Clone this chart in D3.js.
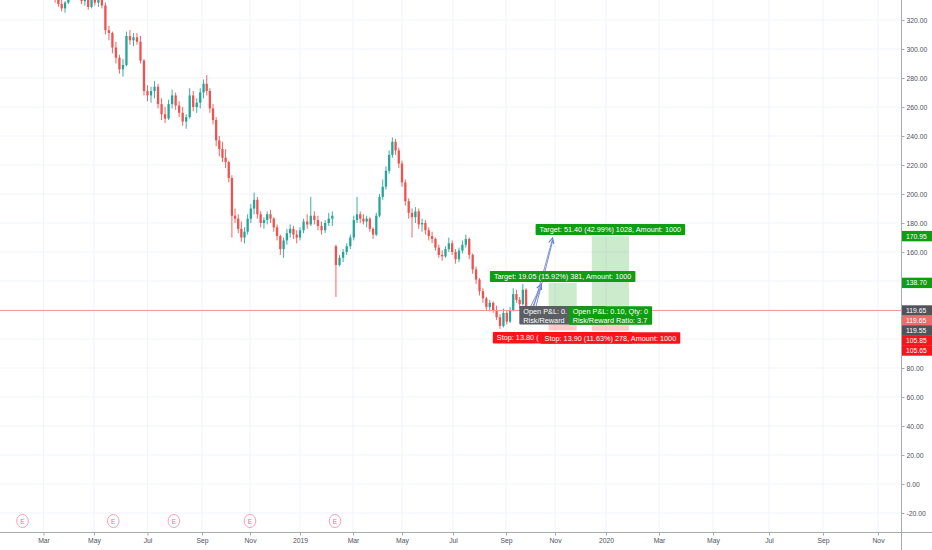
<!DOCTYPE html>
<html><head><meta charset="utf-8">
<script src="https://cdn.jsdelivr.net/npm/d3@7"></script>
<style>html,body{margin:0;padding:0;background:#fff;overflow:hidden}text{font-family:"Liberation Sans",Arial,sans-serif}</style>
</head><body><svg id="c" width="932" height="550"></svg>
<script>
// ---------------- DATA ----------------
const candleStart = "2018-03-03";
const candleStepDays = 4;
const open = [343,341,342,338,334,331,328,332,338,340,
338,336,333,335,329,334,332,335,330,313,
311,301,294,286,289,309,306,308,305,292,
271,268,271,274,262,255,252,262,268,261,
256,250,253,268,260,263,270,276,271,259,
251,237,231,225,222,211,185,183,176,170,
174,183,190,196,186,180,182,186,183,177,
171,162,168,173,176,172,170,175,181,179,
185,182,178,175,180,183,164,151,156,160,
164,170,182,186,183,181,183,176,172,185,
198,205,216,227,236,230,221,208,195,187,
184,188,179,180,175,171,169,163,158,157,
162,166,160,155,161,165,169,158,148,141,
133,128,122,125,120,115,109,118,112,120,
131,127,124,134];
const high = [346,344,345,341,337,335,333,340,342,344,
341,339,338,337,336,338,337,338,332,316,
312,305,296,293,312,313,311,311,309,293,
275,274,278,276,266,260,265,272,270,264,
260,255,273,271,266,273,279,282,273,262,
253,240,236,231,223,213,190,186,181,177,
186,193,201,198,188,184,188,189,184,179,
172,170,176,179,178,175,177,183,186,198,
188,185,181,182,187,188,165,158,162,166,
172,185,198,188,186,185,184,177,187,200,
210,219,230,239,238,232,223,210,197,190,
191,190,183,182,177,174,170,165,161,164,
170,168,162,163,168,172,170,159,150,142,
135,129,127,126,123,117,121,120,122,135,
134,129,138,135];
const low = [340,338,337,332,329,326,325,331,335,336,
334,331,330,327,328,330,329,328,310,306,
297,290,283,281,288,303,302,303,290,268,
264,263,266,259,251,249,251,259,258,253,
247,245,252,257,256,259,266,268,256,248,
233,226,222,218,208,170,180,173,167,166,
172,180,186,183,177,176,179,180,174,168,
158,156,165,170,169,166,168,173,176,178,
179,175,172,173,178,178,129,150,153,158,
162,168,180,180,179,177,174,169,171,184,
196,203,214,225,227,218,205,192,183,170,
180,176,174,172,168,166,161,156,154,156,
160,158,152,153,159,163,155,145,138,130,
125,120,119,118,113,107,108,110,111,119,
125,121,123,119];
const close = [341,342,338,334,331,328,332,338,340,338,
336,333,335,329,334,332,335,330,313,311,
301,294,286,289,309,306,308,305,292,271,
268,271,274,262,255,252,262,268,261,256,
250,253,268,260,263,270,276,271,259,251,
237,231,225,222,211,185,183,176,170,174,
183,190,196,186,180,182,186,183,177,171,
162,168,173,176,172,170,175,181,179,185,
182,178,175,180,183,185,151,156,160,164,
170,182,186,183,181,183,176,172,185,198,
205,216,227,236,230,221,208,195,187,184,
188,179,180,175,171,169,163,158,157,162,
166,160,155,161,165,169,158,148,141,133,
128,122,125,120,115,109,118,112,120,131,
127,124,134,119.65];

const priceTicks = [-20,0,20,40,60,80,100,120,140,160,180,200,220,240,260,280,300,320];
const timeTicks = ["2018-03-01","2018-05-01","2018-07-01","2018-09-01","2018-11-01","2019-01-01","2019-03-01","2019-05-01","2019-07-01","2019-09-01","2019-11-01","2020-01-01","2020-03-01","2020-05-01","2020-07-01","2020-09-01","2020-11-01"];
const timeTickLabels = ["Mar","May","Jul","Sep","Nov","2019","Mar","May","Jul","Sep","Nov","2020","Mar","May","Jul","Sep","Nov"];
const earningsDates = ["2018-02-04","2018-05-23","2018-07-31","2018-11-01","2019-02-09"];
const lastPrice = 119.65;

const posStart = ["2019-10-24","2019-12-15"];
const posEnd = ["2019-11-27","2020-01-27"];
const posEntry = [119.65, 119.55];
const posTarget = [138.70, 170.95];
const posStop = [105.85, 105.65];
const targetText = ["Target: 19.05 (15.92%) 381, Amount: 1000","Target: 51.40 (42.99%) 1028, Amount: 1000"];
const stopText = ["Stop: 13.80 (11.53%) 276, Amount: 1000","Stop: 13.90 (11.63%) 278, Amount: 1000"];
const infoLine1 = ["Open P&L: 0.00, Qty: 0","Open P&L: 0.10, Qty: 0"];
const infoLine2 = ["Risk/Reward Ratio: 1.38","Risk/Reward Ratio: 3.7"];

const arrowFromDate = ["2019-10-03","2019-10-07"];
const arrowFromPrice = [122.5, 122.5];
const arrowToDate = ["2019-10-15","2019-10-29"];
const arrowToPrice = [137.9, 169.7];

const axisLabelPrices = [170.95, 138.70, 119.65, 119.65, 119.55, 105.85, 105.65];
const axisLabelKinds = ["green","green","dark","salmon","dark","red","red"];

// ---------------- LAYOUT ----------------
const W = 932, H = 550, plotR = 901, plotB = 532;
const parse = d3.utcParse("%Y-%m-%d");
// calibrated (non-uniform) time axis, like the trading-day based original
const scaleDates = ["2018-02-01"].concat(timeTicks, ["2021-01-01"]).map(parse);
const scalePx = [20,43.5,94,147.5,202,250,300,353,402,453,506,555,606,659,713,769,823,878,932];
const x = d3.scaleUtc().domain(scaleDates).range(scalePx);
const y = d3.scaleLinear().domain([0, 320]).range([484, 20]);

const colors = {up:"#26a69a", down:"#ef5350", grid:"#f0f3fa", axis:"#a7aab3", text:"#4f525c",
  green:"#0f9d12", red:"#f7141a", dark:"#50535a", salmon:"#f06a6a", gray:"#5b5e63"};

const svg = d3.select("#c");
svg.append("rect").attr("width", W).attr("height", H).attr("fill", "#fff");

const plot = svg.append("g");
plot.append("defs").append("clipPath").attr("id","clip").append("rect")
  .attr("x",0).attr("y",0).attr("width",plotR).attr("height",plotB);
const clipped = plot.append("g").attr("clip-path","url(#clip)");

// grid
clipped.selectAll("line.hg").data(priceTicks).join("line").attr("class","hg")
  .attr("x1",0).attr("x2",plotR).attr("y1",d=>y(d)).attr("y2",d=>y(d))
  .attr("stroke",colors.grid).attr("stroke-width",1);
clipped.selectAll("line.vg").data(timeTicks.map(parse)).join("line").attr("class","vg")
  .attr("y1",0).attr("y2",plotB).attr("x1",d=>x(d)).attr("x2",d=>x(d))
  .attr("stroke",colors.grid).attr("stroke-width",1);

// candles
const dates = d3.utcDay.range(parse(candleStart), d3.utcDay.offset(parse(candleStart), candleStepDays*open.length), candleStepDays);
const candles = dates.map((d,i)=>({d, o:open[i], h:high[i], l:low[i], c:close[i]}));
const cg = clipped.append("g");
cg.selectAll("line.wick").data(candles).join("line").attr("class","wick")
  .attr("x1",d=>x(d.d)).attr("x2",d=>x(d.d)).attr("y1",d=>y(d.h)).attr("y2",d=>y(d.l))
  .attr("stroke",d=>d.c>=d.o?colors.up:colors.down).attr("stroke-width",0.9);
cg.selectAll("rect.body").data(candles).join("rect").attr("class","body")
  .attr("x",d=>x(d.d)-1.15).attr("width",2.3)
  .attr("y",d=>y(Math.max(d.o,d.c)))
  .attr("height",d=>Math.max(0.8, Math.abs(y(d.o)-y(d.c))))
  .attr("fill",d=>d.c>=d.o?colors.up:colors.down);

// last price line
clipped.append("line").attr("x1",0).attr("x2",plotR).attr("y1",y(lastPrice)).attr("y2",y(lastPrice))
  .attr("stroke","#f39a9a").attr("stroke-width",1);

// position zones
posStart.forEach((s,i)=>{
  const x0 = x(parse(s)), x1 = x(parse(posEnd[i]));
  clipped.append("rect").attr("x",x0).attr("width",x1-x0)
    .attr("y",y(posTarget[i])).attr("height",y(posEntry[i])-y(posTarget[i]))
    .attr("fill","rgba(0,150,0,0.2)");
  clipped.append("rect").attr("x",x0).attr("width",x1-x0)
    .attr("y",y(posEntry[i])).attr("height",y(posStop[i])-y(posEntry[i]))
    .attr("fill","rgba(255,0,0,0.2)");
});

// arrows
arrowFromDate.forEach((s,i)=>{
  const ax0 = x(parse(s)), ay0 = y(arrowFromPrice[i]);
  const ax1 = x(parse(arrowToDate[i])), ay1 = y(arrowToPrice[i]);
  const ang = Math.atan2(ay1-ay0, ax1-ax0);
  [-1.1, 1.1].forEach(off=>{
    clipped.append("line").attr("x1",ax0+off).attr("y1",ay0).attr("x2",ax1+off*0.3).attr("y2",ay1+2)
      .attr("stroke","#6f88d3").attr("stroke-width",0.9);
  });
  const hl = 6;
  const p = [[ax1 - hl*Math.cos(ang-0.45), ay1 - hl*Math.sin(ang-0.45)],[ax1,ay1],[ax1 - hl*Math.cos(ang+0.45), ay1 - hl*Math.sin(ang+0.45)]];
  clipped.append("path").attr("d", d3.line()(p)).attr("fill","none").attr("stroke","#5f7bcf").attr("stroke-width",1.1);
});

// labels: box width from the full text; the first position's boxes are partly hidden
// behind the second position's boxes, so their text is cut where the next box starts.
const FS = 7.3;
function measure(t){
  const n = svg.append("text").attr("font-size",FS).text(t);
  const w = n.node().getComputedTextLength(); n.remove(); return w;
}
function boxGeom(cx, lines){
  const w = d3.max(lines, measure) + 8;
  return {x: cx - w/2, w};
}
const lg = plot.append("g");
function drawBox(geom, top, h, lines, fill, limit){
  const grp = lg.append("g");
  grp.append("rect").attr("fill",fill).attr("rx",1)
    .attr("x",geom.x).attr("y",top).attr("width",geom.w).attr("height",h);
  lines.forEach((t,k)=>{
    const tx = grp.append("text").attr("x",geom.x+4).attr("y", top + 8.2 + k*8.3)
      .attr("font-size",FS).attr("fill","#fff").text(t);
    if (limit != null) {
      let s = t;
      while (s.length && geom.x + 4 + tx.node().getComputedTextLength() > limit - 1) {
        s = s.slice(0, -1); tx.text(s);
      }
    }
  });
}
const centers = posStart.map((s,i)=>(x(parse(s)) + x(parse(posEnd[i])))/2);
const tGeom = centers.map((cx,i)=>boxGeom(cx,[targetText[i]]));
const iGeom = centers.map((cx,i)=>boxGeom(cx,[infoLine1[i], infoLine2[i]]));
const sGeom = centers.map((cx,i)=>boxGeom(cx,[stopText[i]]));
centers.forEach((cx,i)=>{
  drawBox(tGeom[i], y(posTarget[i])-12, 11, [targetText[i]], colors.green, null);
});
centers.forEach((cx,i)=>{
  drawBox(iGeom[i], y(posEntry[i])-4.5, 18.5, [infoLine1[i], infoLine2[i]], i===0?colors.gray:colors.green,
    i+1 < centers.length ? iGeom[i+1].x : null);
});
centers.forEach((cx,i)=>{
  drawBox(sGeom[i], y(posStop[i])+1.5, 11.5, [stopText[i]], colors.red,
    i+1 < centers.length ? sGeom[i+1].x : null);
});

// earnings markers
const eg = plot.append("g");
earningsDates.forEach(s=>{
  const ex = x(parse(s));
  eg.append("ellipse").attr("cx",ex).attr("cy",521).attr("rx",5.8).attr("ry",6.5)
    .attr("fill","#fff").attr("stroke","#f3a3b8").attr("stroke-width",1);
  eg.append("text").text("E").attr("x",ex).attr("y",523.5).attr("text-anchor","middle")
    .attr("font-size",6.5).attr("fill","#e8708f");
});

// axes
svg.append("line").attr("x1",0).attr("x2",W).attr("y1",plotB+0.5).attr("y2",plotB+0.5)
  .attr("stroke",colors.axis).attr("stroke-width",1);
svg.append("line").attr("x1",plotR+0.5).attr("x2",plotR+0.5).attr("y1",0).attr("y2",H)
  .attr("stroke",colors.axis).attr("stroke-width",1);

const labelCenters = axisLabelPrices.map((p,i)=> i<2 ? y(p) : y(lastPrice) + (i-2)*10);
const yAxis = d3.axisRight(y).tickValues(priceTicks).tickFormat(d=>d.toFixed(2)).tickSize(3).tickPadding(2);
const ya = svg.append("g").attr("transform",`translate(${plotR+0.5},0)`).call(yAxis);
ya.select(".domain").remove();
ya.selectAll(".tick line").attr("stroke",colors.axis);
ya.selectAll(".tick text").attr("font-size",6.8).attr("fill",colors.text)
  .attr("font-family","Liberation Sans, Arial, sans-serif");
ya.selectAll(".tick").filter(d=> labelCenters.some(c=>Math.abs(c-y(d))<9)).remove();

const xAxis = d3.axisBottom(x).tickValues(timeTicks.map(parse)).tickFormat((d,i)=>timeTickLabels[i]).tickSize(3).tickPadding(3);
const xa = svg.append("g").attr("transform",`translate(0,${plotB+0.5})`).call(xAxis);
xa.select(".domain").remove();
xa.selectAll(".tick line").attr("stroke",colors.axis);
xa.selectAll(".tick text").attr("font-size",6.8).attr("fill",colors.text)
  .attr("font-family","Liberation Sans, Arial, sans-serif");

// price axis labels
const kindColor = {green:colors.green, red:colors.red, dark:colors.dark, salmon:colors.salmon};
const pl = svg.append("g");
axisLabelPrices.forEach((p,i)=>{
  const cy = labelCenters[i];
  pl.append("rect").attr("x",plotR+1).attr("y",cy-5.2).attr("width",W-plotR-1).attr("height",10.4)
    .attr("fill",kindColor[axisLabelKinds[i]]);
  pl.append("text").text(p.toFixed(2)).attr("x",906).attr("y",cy+2.4)
    .attr("font-size",6.8).attr("fill","#fff");
});
</script></body></html>
